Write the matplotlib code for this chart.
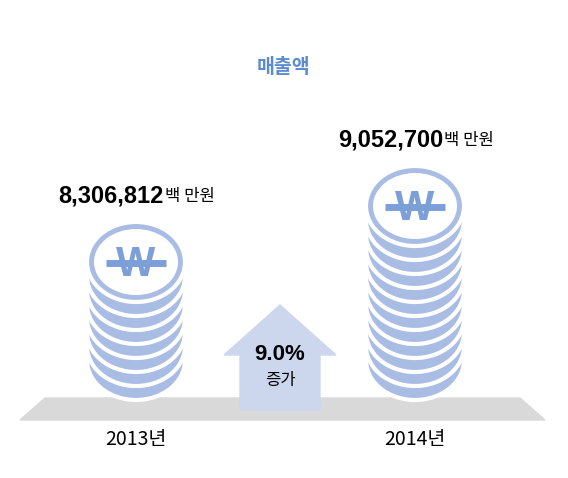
import matplotlib
matplotlib.use("Agg")
import matplotlib.pyplot as plt
from matplotlib.patches import Ellipse, Polygon

plt.rcParams['font.family'] = ['Noto Sans CJK KR', 'DejaVu Sans']

years = ["2013년", "2014년"]
values = ["8,306,812", "9,052,700"]
units = "백 만원"
coins = [8, 12]
growth = "9.0%"
growth_label = "증가"
title = "매출액"

fig = plt.figure(figsize=(5.68, 4.78), dpi=100)
ax = fig.add_axes([0, 0, 1, 1])
ax.set_xlim(0, 568); ax.set_ylim(478, 0); ax.axis('off')

ax.add_patch(Polygon([[20, 420], [545, 420], [520, 398], [45, 398]], color='#d9d9d9', zorder=1))
ax.add_patch(Polygon([[240, 410], [320, 410], [320, 355], [336, 355], [280, 305], [224, 355], [240, 355]],
                     color='#ccd7ee', zorder=2))
ax.text(280, 354, growth, ha='center', va='center', fontsize=16, fontweight='bold', zorder=3,
        family=['Liberation Sans', 'DejaVu Sans'])
ax.text(280, 381, growth_label, ha='center', va='center', fontsize=12, zorder=3)

light = '#a8bce4'; dark = '#7d9fd8'
for cx, n, yr, val in zip([136, 415], coins, years, values):
    bottom = 360
    step = 14
    for i in range(n):
        cy = bottom - i * step
        ax.add_patch(Ellipse((cx, cy), 98, 80, facecolor=light, edgecolor='white', lw=3, zorder=3 + i))
    top = bottom - (n - 1) * step
    ax.add_patch(Ellipse((cx, top), 84, 66, facecolor='white', edgecolor='none', zorder=3 + n))
    ax.text(cx, top + 3, "W", ha='center', va='center', fontsize=30, fontweight='bold',
            color=dark, family='Liberation Sans', zorder=4 + n)
    ax.plot([cx - 30, cx + 30], [top + 1, top + 1], color=dark, lw=5, solid_capstyle='butt', zorder=4 + n)
    ax.text(cx, 440, yr, ha='center', va='center', fontsize=14, zorder=20)
    ty = top - 66
    ax.text(cx + 28, ty, val, ha='right', va='center', fontsize=17, fontweight='bold', zorder=20,
            family=['Liberation Sans', 'DejaVu Sans'])
    ax.text(cx + 29, ty, units, ha='left', va='center', fontsize=12, zorder=20)

ax.text(283, 67, title, ha='center', va='center', fontsize=14, fontweight='bold', color='#5b8bd0')
fig.savefig("out.png", dpi=100)
